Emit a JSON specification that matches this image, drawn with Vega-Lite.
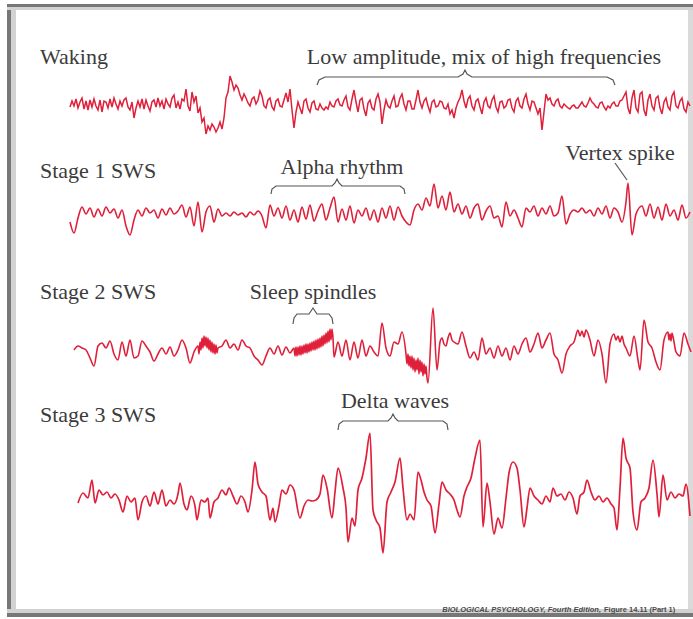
{
"$schema":"https://vega.github.io/schema/vega-lite/v6.json",
"background":"#ffffff",
"padding":{"left":7,"top":4,"right":0,"bottom":2},
"spacing":0,
"bounds":"flush",
"config":{"view":{"stroke":null},"text":{"font":"Liberation Serif","fontSize":22,"color":"#3b3b3b","baseline":"alphabetic"}},
"datasets":{
"wake":[
{"t":0,"v":-3},{"t":20,"v":3},{"t":40,"v":-2},{"t":60,"v":5},{"t":80,"v":-4},{"t":100,"v":2},{"t":120,"v":6},{"t":140,"v":-5},{"t":160,"v":3},{"t":180,"v":-6},
{"t":200,"v":4},{"t":220,"v":-3},{"t":240,"v":5},{"t":260,"v":-2},{"t":280,"v":-6},{"t":300,"v":4},{"t":320,"v":-8},{"t":340,"v":3},{"t":360,"v":2},{"t":380,"v":-4},
{"t":400,"v":5},{"t":420,"v":-3},{"t":440,"v":6},{"t":460,"v":0},{"t":480,"v":-5},{"t":500,"v":3},{"t":520,"v":-2},{"t":540,"v":4},{"t":560,"v":6},{"t":580,"v":-3},
{"t":600,"v":-6},{"t":620,"v":2},{"t":640,"v":-14},{"t":660,"v":-4},{"t":680,"v":3},{"t":700,"v":-3},{"t":720,"v":5},{"t":740,"v":-5},{"t":760,"v":4},{"t":780,"v":-2},
{"t":800,"v":-7},{"t":820,"v":2},{"t":840,"v":4},{"t":860,"v":-3},{"t":880,"v":6},{"t":900,"v":-2},{"t":920,"v":3},{"t":940,"v":-5},{"t":960,"v":5},{"t":980,"v":0},
{"t":1000,"v":-3},{"t":1020,"v":6},{"t":1040,"v":9},{"t":1060,"v":-4},{"t":1080,"v":2},{"t":1100,"v":-5},{"t":1120,"v":5},{"t":1140,"v":3},{"t":1160,"v":15},{"t":1180,"v":-2},
{"t":1200,"v":-7},{"t":1220,"v":12},{"t":1240,"v":2},{"t":1260,"v":8},{"t":1280,"v":-9},{"t":1300,"v":-4},{"t":1320,"v":-18},{"t":1340,"v":-14},{"t":1360,"v":-30},{"t":1380,"v":-22},
{"t":1400,"v":-26},{"t":1420,"v":-20},{"t":1440,"v":-23},{"t":1460,"v":-28},{"t":1480,"v":-24},{"t":1500,"v":-18},{"t":1520,"v":-25},{"t":1540,"v":-14},{"t":1560,"v":6},{"t":1580,"v":12},
{"t":1600,"v":28},{"t":1620,"v":22},{"t":1640,"v":14},{"t":1660,"v":19},{"t":1680,"v":16},{"t":1700,"v":9},{"t":1720,"v":4},{"t":1740,"v":10},{"t":1760,"v":6},{"t":1780,"v":1},
{"t":1800,"v":-2},{"t":1820,"v":5},{"t":1840,"v":7},{"t":1860,"v":0},{"t":1880,"v":4},{"t":1900,"v":13},{"t":1920,"v":8},{"t":1940,"v":-2},{"t":1960,"v":-4},{"t":1980,"v":4},
{"t":2000,"v":6},{"t":2020,"v":-3},{"t":2040,"v":-6},{"t":2060,"v":3},{"t":2080,"v":5},{"t":2100,"v":-2},{"t":2120,"v":-3},{"t":2140,"v":4},{"t":2160,"v":11},{"t":2180,"v":2},
{"t":2200,"v":15},{"t":2220,"v":-6},{"t":2240,"v":-24},{"t":2260,"v":-8},{"t":2280,"v":2},{"t":2300,"v":-4},{"t":2320,"v":-10},{"t":2340,"v":3},{"t":2360,"v":5},{"t":2380,"v":-4},
{"t":2400,"v":-8},{"t":2420,"v":1},{"t":2440,"v":3},{"t":2460,"v":-5},{"t":2480,"v":-6},{"t":2500,"v":0},{"t":2520,"v":-4},{"t":2540,"v":-6},{"t":2560,"v":-3},{"t":2580,"v":-5},
{"t":2600,"v":2},{"t":2620,"v":-2},{"t":2640,"v":-3},{"t":2660,"v":3},{"t":2680,"v":5},{"t":2700,"v":-1},{"t":2720,"v":-2},{"t":2740,"v":4},{"t":2760,"v":8},{"t":2780,"v":-3},
{"t":2800,"v":-6},{"t":2820,"v":5},{"t":2840,"v":14},{"t":2860,"v":2},{"t":2880,"v":-8},{"t":2900,"v":4},{"t":2920,"v":6},{"t":2940,"v":-5},{"t":2960,"v":-12},{"t":2980,"v":1},
{"t":3000,"v":4},{"t":3020,"v":-4},{"t":3040,"v":-6},{"t":3060,"v":5},{"t":3080,"v":10},{"t":3100,"v":2},{"t":3120,"v":-20},{"t":3140,"v":-6},{"t":3160,"v":4},{"t":3180,"v":-2},
{"t":3200,"v":-4},{"t":3220,"v":3},{"t":3240,"v":8},{"t":3260,"v":-3},{"t":3280,"v":-2},{"t":3300,"v":6},{"t":3320,"v":10},{"t":3340,"v":0},{"t":3360,"v":-6},{"t":3380,"v":3},
{"t":3400,"v":3},{"t":3420,"v":-5},{"t":3440,"v":-5},{"t":3460,"v":4},{"t":3480,"v":14},{"t":3500,"v":2},{"t":3520,"v":-4},{"t":3540,"v":3},{"t":3560,"v":6},{"t":3580,"v":-2},
{"t":3600,"v":-8},{"t":3620,"v":2},{"t":3640,"v":4},{"t":3660,"v":-3},{"t":3680,"v":-2},{"t":3700,"v":3},{"t":3720,"v":2},{"t":3740,"v":-4},{"t":3760,"v":-5},{"t":3780,"v":0},
{"t":3800,"v":-10},{"t":3820,"v":-6},{"t":3840,"v":-14},{"t":3860,"v":-4},{"t":3880,"v":2},{"t":3900,"v":6},{"t":3920,"v":14},{"t":3940,"v":3},{"t":3960,"v":-4},{"t":3980,"v":5},
{"t":4000,"v":8},{"t":4020,"v":-2},{"t":4040,"v":-6},{"t":4060,"v":3},{"t":4080,"v":5},{"t":4100,"v":-3},{"t":4120,"v":-10},{"t":4140,"v":2},{"t":4160,"v":6},{"t":4180,"v":-2},
{"t":4200,"v":-4},{"t":4220,"v":4},{"t":4240,"v":8},{"t":4260,"v":-3},{"t":4280,"v":-8},{"t":4300,"v":2},{"t":4320,"v":3},{"t":4340,"v":-4},{"t":4360,"v":-2},{"t":4380,"v":4},
{"t":4400,"v":5},{"t":4420,"v":-4},{"t":4440,"v":-8},{"t":4460,"v":3},{"t":4480,"v":6},{"t":4500,"v":-2},{"t":4520,"v":-4},{"t":4540,"v":5},{"t":4560,"v":10},{"t":4580,"v":0},
{"t":4600,"v":-6},{"t":4620,"v":3},{"t":4640,"v":2},{"t":4660,"v":-4},{"t":4680,"v":-10},{"t":4700,"v":-4},{"t":4720,"v":-26},{"t":4740,"v":-8},{"t":4760,"v":10},{"t":4780,"v":4},
{"t":4800,"v":6},{"t":4820,"v":0},{"t":4840,"v":-2},{"t":4860,"v":3},{"t":4880,"v":5},{"t":4900,"v":-2},{"t":4920,"v":-4},{"t":4940,"v":0},{"t":4960,"v":-2},{"t":4980,"v":-4},
{"t":5000,"v":-5},{"t":5020,"v":-2},{"t":5040,"v":-1},{"t":5060,"v":-4},{"t":5080,"v":-4},{"t":5100,"v":-1},{"t":5120,"v":2},{"t":5140,"v":-2},{"t":5160,"v":-3},{"t":5180,"v":1},
{"t":5200,"v":6},{"t":5220,"v":2},{"t":5240,"v":0},{"t":5260,"v":-3},{"t":5280,"v":-4},{"t":5300,"v":1},{"t":5320,"v":2},{"t":5340,"v":-3},{"t":5360,"v":-6},{"t":5380,"v":-2},
{"t":5400,"v":-4},{"t":5420,"v":0},{"t":5440,"v":2},{"t":5460,"v":-2},{"t":5480,"v":-2},{"t":5500,"v":3},{"t":5520,"v":4},{"t":5540,"v":8},{"t":5560,"v":12},{"t":5580,"v":-4},
{"t":5600,"v":-10},{"t":5620,"v":6},{"t":5640,"v":14},{"t":5660,"v":-4},{"t":5680,"v":-8},{"t":5700,"v":10},{"t":5720,"v":12},{"t":5740,"v":-6},{"t":5760,"v":-12},{"t":5780,"v":4},
{"t":5800,"v":10},{"t":5820,"v":-2},{"t":5840,"v":-6},{"t":5860,"v":6},{"t":5880,"v":8},{"t":5900,"v":-4},{"t":5920,"v":-10},{"t":5940,"v":2},{"t":5960,"v":6},{"t":5980,"v":-3},
{"t":6000,"v":-6},{"t":6020,"v":8},{"t":6040,"v":12},{"t":6060,"v":-2},{"t":6080,"v":-4},{"t":6100,"v":3},{"t":6120,"v":6},{"t":6140,"v":-5},{"t":6160,"v":-8},{"t":6180,"v":2},{"t":6200,"v":-2}],
"s1":[{"t":0,"v":-8},{"t":40,"v":-19},{"t":80,"v":-4},{"t":120,"v":7},{"t":160,"v":0},{"t":200,"v":6},{"t":240,"v":-3},{"t":280,"v":5},{"t":320,"v":-2},{"t":360,"v":7},
{"t":400,"v":1},{"t":440,"v":5},{"t":480,"v":-4},{"t":520,"v":4},{"t":560,"v":-12},{"t":600,"v":-21},{"t":640,"v":-6},{"t":680,"v":4},{"t":720,"v":-2},{"t":760,"v":6},
{"t":800,"v":1},{"t":840,"v":4},{"t":880,"v":-4},{"t":920,"v":5},{"t":960,"v":-1},{"t":1000,"v":6},{"t":1040,"v":0},{"t":1080,"v":3},{"t":1120,"v":9},{"t":1160,"v":-3},
{"t":1200,"v":7},{"t":1240,"v":-12},{"t":1280,"v":12},{"t":1320,"v":-18},{"t":1360,"v":2},{"t":1400,"v":8},{"t":1440,"v":-8},{"t":1480,"v":5},{"t":1520,"v":-2},{"t":1560,"v":1},
{"t":1600,"v":-2},{"t":1640,"v":2},{"t":1680,"v":-1},{"t":1720,"v":1},{"t":1760,"v":-3},{"t":1800,"v":2},{"t":1840,"v":-1},{"t":1880,"v":3},{"t":1920,"v":-2},{"t":1960,"v":-14},
{"t":2000,"v":9},{"t":2040,"v":-2},{"t":2080,"v":6},{"t":2120,"v":-4},{"t":2160,"v":8},{"t":2200,"v":-6},{"t":2240,"v":4},{"t":2280,"v":-8},{"t":2320,"v":7},{"t":2360,"v":-5},
{"t":2400,"v":9},{"t":2440,"v":-7},{"t":2480,"v":3},{"t":2520,"v":10},{"t":2560,"v":-6},{"t":2600,"v":6},{"t":2640,"v":17},{"t":2680,"v":-8},{"t":2720,"v":5},{"t":2760,"v":-6},
{"t":2800,"v":8},{"t":2840,"v":-9},{"t":2880,"v":4},{"t":2920,"v":-2},{"t":2960,"v":6},{"t":3000,"v":-6},{"t":3040,"v":4},{"t":3080,"v":-8},{"t":3120,"v":6},{"t":3160,"v":-4},
{"t":3200,"v":8},{"t":3240,"v":-6},{"t":3280,"v":7},{"t":3320,"v":-2},{"t":3360,"v":-8},{"t":3400,"v":-11},{"t":3440,"v":4},{"t":3480,"v":10},{"t":3520,"v":4},{"t":3560,"v":16},
{"t":3600,"v":8},{"t":3640,"v":30},{"t":3680,"v":6},{"t":3720,"v":18},{"t":3760,"v":4},{"t":3800,"v":22},{"t":3840,"v":2},{"t":3880,"v":10},{"t":3920,"v":0},{"t":3960,"v":8},
{"t":4000,"v":-4},{"t":4040,"v":6},{"t":4080,"v":10},{"t":4120,"v":-6},{"t":4160,"v":3},{"t":4200,"v":8},{"t":4240,"v":-4},{"t":4280,"v":-2},{"t":4320,"v":-13},{"t":4360,"v":12},
{"t":4400,"v":-2},{"t":4440,"v":4},{"t":4480,"v":-4},{"t":4520,"v":-13},{"t":4560,"v":6},{"t":4600,"v":2},{"t":4640,"v":8},{"t":4680,"v":-2},{"t":4720,"v":6},{"t":4760,"v":0},
{"t":4800,"v":8},{"t":4840,"v":-2},{"t":4880,"v":1},{"t":4920,"v":18},{"t":4960,"v":-10},{"t":5000,"v":0},{"t":5040,"v":4},{"t":5080,"v":2},{"t":5120,"v":6},{"t":5160,"v":1},
{"t":5200,"v":4},{"t":5240,"v":-2},{"t":5280,"v":6},{"t":5320,"v":0},{"t":5360,"v":8},{"t":5400,"v":-4},{"t":5440,"v":6},{"t":5480,"v":2},{"t":5520,"v":-8},{"t":5560,"v":12},
{"t":5580,"v":31},{"t":5620,"v":-21},{"t":5660,"v":0},{"t":5720,"v":8},{"t":5760,"v":-2},{"t":5800,"v":10},{"t":5840,"v":-4},{"t":5880,"v":7},{"t":5920,"v":-6},{"t":5960,"v":10},
{"t":6000,"v":-2},{"t":6040,"v":4},{"t":6080,"v":-6},{"t":6120,"v":9},{"t":6160,"v":-4},{"t":6200,"v":2}],
"s2":[{"t":40,"v":0},{"t":80,"v":4},{"t":120,"v":2},{"t":160,"v":0},{"t":200,"v":-8},{"t":240,"v":-16},{"t":280,"v":4},{"t":320,"v":7},{"t":360,"v":2},{"t":400,"v":9},
{"t":440,"v":-4},{"t":480,"v":-10},{"t":520,"v":8},{"t":560,"v":-6},{"t":600,"v":10},{"t":640,"v":-8},{"t":680,"v":-6},{"t":720,"v":9},{"t":760,"v":4},{"t":800,"v":-2},
{"t":840,"v":-11},{"t":880,"v":-4},{"t":920,"v":2},{"t":960,"v":-4},{"t":1000,"v":3},{"t":1040,"v":-6},{"t":1080,"v":0},{"t":1120,"v":10},{"t":1160,"v":2},{"t":1200,"v":-13},
{"t":1240,"v":-2},{"t":1280,"v":4},{"t":1290,"v":-4},{"t":1300,"v":8},{"t":1310,"v":0},{"t":1320,"v":12},{"t":1330,"v":2},{"t":1340,"v":14},{"t":1350,"v":4},{"t":1360,"v":13},
{"t":1370,"v":2},{"t":1380,"v":12},{"t":1390,"v":0},{"t":1400,"v":10},{"t":1410,"v":-2},{"t":1420,"v":8},{"t":1430,"v":-3},{"t":1440,"v":6},{"t":1450,"v":-4},{"t":1460,"v":5},
{"t":1470,"v":-3},{"t":1480,"v":2},{"t":1520,"v":4},{"t":1560,"v":10},{"t":1600,"v":2},{"t":1640,"v":6},{"t":1680,"v":0},{"t":1720,"v":10},{"t":1760,"v":4},{"t":1800,"v":2},
{"t":1840,"v":-6},{"t":1880,"v":-10},{"t":1920,"v":-15},{"t":1960,"v":-6},{"t":2000,"v":2},{"t":2040,"v":-4},{"t":2080,"v":4},{"t":2120,"v":-5},{"t":2160,"v":3},{"t":2200,"v":-3},
{"t":2240,"v":2},{"t":2250,"v":-6},{"t":2260,"v":3},{"t":2270,"v":-6},{"t":2280,"v":3},{"t":2290,"v":-5},{"t":2300,"v":4},{"t":2310,"v":-5},{"t":2320,"v":4},{"t":2330,"v":-4},
{"t":2340,"v":5},{"t":2350,"v":-3},{"t":2360,"v":6},{"t":2370,"v":-3},{"t":2380,"v":6},{"t":2390,"v":-2},{"t":2400,"v":7},{"t":2410,"v":-1},{"t":2420,"v":8},{"t":2430,"v":0},
{"t":2440,"v":9},{"t":2450,"v":0},{"t":2460,"v":10},{"t":2470,"v":1},{"t":2480,"v":11},{"t":2490,"v":2},{"t":2500,"v":12},{"t":2510,"v":3},{"t":2520,"v":14},{"t":2530,"v":4},
{"t":2540,"v":15},{"t":2550,"v":6},{"t":2560,"v":17},{"t":2570,"v":7},{"t":2580,"v":19},{"t":2590,"v":8},{"t":2600,"v":21},{"t":2610,"v":10},{"t":2620,"v":21},{"t":2630,"v":12},
{"t":2640,"v":-7},{"t":2680,"v":8},{"t":2720,"v":-6},{"t":2760,"v":10},{"t":2800,"v":-10},{"t":2840,"v":8},{"t":2880,"v":-8},{"t":2920,"v":10},{"t":2960,"v":-6},{"t":3000,"v":4},
{"t":3040,"v":-2},{"t":3080,"v":-6},{"t":3120,"v":27},{"t":3160,"v":2},{"t":3200,"v":-6},{"t":3240,"v":8},{"t":3280,"v":6},{"t":3320,"v":18},{"t":3360,"v":-4},{"t":3370,"v":-14},
{"t":3380,"v":-4},{"t":3390,"v":-16},{"t":3400,"v":-6},{"t":3410,"v":-18},{"t":3420,"v":-6},{"t":3430,"v":-20},{"t":3440,"v":-8},{"t":3450,"v":-22},{"t":3460,"v":-10},{"t":3470,"v":-20},
{"t":3480,"v":-8},{"t":3490,"v":-24},{"t":3500,"v":-10},{"t":3510,"v":-22},{"t":3520,"v":-12},{"t":3530,"v":-26},{"t":3540,"v":-14},{"t":3550,"v":-24},{"t":3560,"v":-16},{"t":3570,"v":-28},
{"t":3580,"v":-33},{"t":3630,"v":42},{"t":3670,"v":-20},{"t":3700,"v":8},{"t":3720,"v":12},{"t":3740,"v":6},{"t":3760,"v":4},{"t":3780,"v":12},{"t":3800,"v":17},{"t":3820,"v":10},
{"t":3840,"v":8},{"t":3880,"v":6},{"t":3920,"v":18},{"t":3960,"v":4},{"t":4000,"v":-8},{"t":4040,"v":-2},{"t":4080,"v":-10},{"t":4120,"v":12},{"t":4160,"v":-4},{"t":4200,"v":2},
{"t":4240,"v":-8},{"t":4280,"v":4},{"t":4320,"v":-6},{"t":4360,"v":2},{"t":4400,"v":-10},{"t":4440,"v":4},{"t":4480,"v":-4},{"t":4520,"v":6},{"t":4560,"v":12},{"t":4600,"v":-2},
{"t":4640,"v":6},{"t":4680,"v":17},{"t":4720,"v":2},{"t":4760,"v":10},{"t":4800,"v":17},{"t":4840,"v":-4},{"t":4880,"v":-10},{"t":4920,"v":-23},{"t":4960,"v":-4},{"t":5000,"v":4},
{"t":5040,"v":8},{"t":5080,"v":20},{"t":5100,"v":14},{"t":5120,"v":19},{"t":5140,"v":13},{"t":5160,"v":20},{"t":5200,"v":10},{"t":5240,"v":-6},{"t":5280,"v":10},{"t":5320,"v":-4},
{"t":5360,"v":-33},{"t":5400,"v":6},{"t":5440,"v":16},{"t":5460,"v":10},{"t":5480,"v":14},{"t":5500,"v":8},{"t":5520,"v":14},{"t":5540,"v":6},{"t":5560,"v":2},{"t":5600,"v":-6},
{"t":5640,"v":14},{"t":5680,"v":-10},{"t":5700,"v":-20},{"t":5740,"v":30},{"t":5780,"v":8},{"t":5820,"v":2},{"t":5860,"v":-12},{"t":5900,"v":-20},{"t":5940,"v":10},{"t":5980,"v":18},
{"t":5990,"v":10},{"t":6000,"v":16},{"t":6010,"v":9},{"t":6020,"v":17},{"t":6040,"v":8},{"t":6060,"v":-2},{"t":6100,"v":-6},{"t":6140,"v":17},{"t":6180,"v":6},{"t":6210,"v":-2}],
"s3":[{"t":80,"v":-5},{"t":130,"v":5},{"t":180,"v":0},{"t":220,"v":18},{"t":250,"v":-5},{"t":290,"v":8},{"t":330,"v":3},{"t":370,"v":6},{"t":410,"v":0},{"t":450,"v":4},
{"t":490,"v":-2},{"t":530,"v":-14},{"t":570,"v":2},{"t":610,"v":-4},{"t":650,"v":0},{"t":680,"v":-22},{"t":720,"v":-4},{"t":760,"v":2},{"t":800,"v":-8},{"t":840,"v":6},
{"t":880,"v":-6},{"t":920,"v":8},{"t":960,"v":-8},{"t":1000,"v":-2},{"t":1040,"v":-6},{"t":1080,"v":4},{"t":1100,"v":15},{"t":1140,"v":-6},{"t":1170,"v":-12},{"t":1210,"v":2},
{"t":1250,"v":-8},{"t":1270,"v":-22},{"t":1310,"v":-2},{"t":1350,"v":-4},{"t":1380,"v":0},{"t":1400,"v":-20},{"t":1440,"v":-4},{"t":1480,"v":0},{"t":1520,"v":8},{"t":1560,"v":3},
{"t":1590,"v":10},{"t":1630,"v":2},{"t":1670,"v":-6},{"t":1710,"v":2},{"t":1750,"v":-4},{"t":1780,"v":-14},{"t":1820,"v":8},{"t":1850,"v":36},{"t":1880,"v":14},{"t":1920,"v":6},
{"t":1960,"v":2},{"t":2000,"v":-22},{"t":2030,"v":-10},{"t":2050,"v":-24},{"t":2090,"v":-8},{"t":2120,"v":8},{"t":2160,"v":4},{"t":2200,"v":13},{"t":2240,"v":8},{"t":2300,"v":-20},
{"t":2340,"v":-8},{"t":2380,"v":-2},{"t":2420,"v":-3},{"t":2460,"v":-2},{"t":2500,"v":4},{"t":2530,"v":23},{"t":2570,"v":10},{"t":2620,"v":-20},{"t":2650,"v":6},{"t":2680,"v":30},
{"t":2730,"v":10},{"t":2760,"v":-10},{"t":2780,"v":-44},{"t":2820,"v":-20},{"t":2850,"v":-28},{"t":2880,"v":8},{"t":2920,"v":20},{"t":2960,"v":40},{"t":3000,"v":65},{"t":3030,"v":-12},
{"t":3060,"v":-22},{"t":3100,"v":-30},{"t":3130,"v":-55},{"t":3170,"v":-4},{"t":3210,"v":6},{"t":3250,"v":16},{"t":3300,"v":40},{"t":3330,"v":10},{"t":3370,"v":-22},{"t":3400,"v":-16},
{"t":3440,"v":-22},{"t":3480,"v":26},{"t":3510,"v":18},{"t":3540,"v":6},{"t":3570,"v":-2},{"t":3610,"v":-8},{"t":3650,"v":-35},{"t":3690,"v":-6},{"t":3720,"v":16},{"t":3760,"v":8},
{"t":3800,"v":4},{"t":3840,"v":-2},{"t":3870,"v":-12},{"t":3900,"v":-19},{"t":3940,"v":2},{"t":3970,"v":11},{"t":4010,"v":20},{"t":4050,"v":40},{"t":4100,"v":58},{"t":4130,"v":-29},
{"t":4170,"v":15},{"t":4200,"v":-4},{"t":4240,"v":-36},{"t":4280,"v":-20},{"t":4320,"v":-30},{"t":4360,"v":0},{"t":4390,"v":25},{"t":4430,"v":36},{"t":4470,"v":30},{"t":4500,"v":8},
{"t":4540,"v":-29},{"t":4570,"v":-10},{"t":4600,"v":10},{"t":4640,"v":2},{"t":4680,"v":-2},{"t":4720,"v":-6},{"t":4760,"v":2},{"t":4800,"v":-4},{"t":4830,"v":10},{"t":4870,"v":2},
{"t":4910,"v":4},{"t":4950,"v":-2},{"t":4990,"v":6},{"t":5030,"v":0},{"t":5070,"v":-16},{"t":5100,"v":2},{"t":5140,"v":6},{"t":5170,"v":18},{"t":5210,"v":6},{"t":5250,"v":-2},
{"t":5290,"v":2},{"t":5330,"v":-4},{"t":5370,"v":0},{"t":5410,"v":-6},{"t":5440,"v":-10},{"t":5470,"v":-32},{"t":5500,"v":10},{"t":5530,"v":60},{"t":5560,"v":40},{"t":5600,"v":30},
{"t":5630,"v":-14},{"t":5670,"v":-32},{"t":5710,"v":-4},{"t":5750,"v":0},{"t":5790,"v":10},{"t":5830,"v":38},{"t":5870,"v":4},{"t":5890,"v":-19},{"t":5930,"v":23},{"t":5970,"v":-2},
{"t":6010,"v":6},{"t":6050,"v":0},{"t":6090,"v":4},{"t":6130,"v":2},{"t":6160,"v":14},{"t":6200,"v":-18}],
"brW":[{"t":2470,"v":19},{"t":2490,"v":24},{"t":2550,"v":27},{"t":3880,"v":27},{"t":3930,"v":30},{"t":3950,"v":34},{"t":3970,"v":30},{"t":4020,"v":27},{"t":5370,"v":27},{"t":5430,"v":24},{"t":5450,"v":19}],
"brA":[{"t":2010,"v":20},{"t":2020,"v":25},{"t":2060,"v":28},{"t":2620,"v":28},{"t":2650,"v":31},{"t":2670,"v":35},{"t":2690,"v":31},{"t":2720,"v":28},{"t":3300,"v":28},{"t":3340,"v":25},{"t":3350,"v":20}],
"vtx":[{"t":5450,"v":51},{"t":5570,"v":34}],
"brS":[{"t":2230,"v":26},{"t":2240,"v":32},{"t":2270,"v":36},{"t":2390,"v":36},{"t":2410,"v":39},{"t":2430,"v":42},{"t":2450,"v":39},{"t":2470,"v":36},{"t":2590,"v":36},{"t":2620,"v":32},{"t":2630,"v":26}],
"brD":[{"t":2680,"v":68},{"t":2690,"v":74},{"t":2730,"v":77},{"t":3180,"v":77},{"t":3210,"v":80},{"t":3230,"v":84},{"t":3250,"v":80},{"t":3280,"v":77},{"t":3730,"v":77},{"t":3770,"v":74},{"t":3780,"v":68}]
},
"vconcat":[
{"width":686,"height":136,
"layer":[
{"data":{"values":[{}]},"mark":{"type":"rule","clip":true,"color":"#d2d2d2","strokeWidth":18},"encoding":{"x":{"datum":-630,"type":"quantitative","scale":{"domain":[-630,6230],"nice":false,"zero":false},"axis":null}}},
{"data":{"values":[{}]},"mark":{"type":"rule","clip":true,"color":"#777777","strokeWidth":8},"encoding":{"x":{"datum":-630,"type":"quantitative","scale":{"domain":[-630,6230],"nice":false,"zero":false},"axis":null}}},
{"data":{"values":[{}]},"mark":{"type":"rule","clip":true,"color":"#dadada","strokeWidth":10},"encoding":{"x":{"datum":6230,"type":"quantitative","scale":{"domain":[-630,6230],"nice":false,"zero":false},"axis":null}}},
{"data":{"values":[{}]},"mark":{"type":"rule","clip":true,"color":"#d2d2d2","strokeWidth":12},"encoding":{"y":{"datum":100,"type":"quantitative","scale":{"domain":[-36,100],"nice":false,"zero":false},"axis":null}}},
{"data":{"values":[{}]},"mark":{"type":"rule","clip":true,"color":"#777777","strokeWidth":6},"encoding":{"y":{"datum":100,"type":"quantitative","scale":{"domain":[-36,100],"nice":false,"zero":false},"axis":null}}},
{"data":{"name":"wake"},"mark":{"type":"line","color":"#e0203a","strokeWidth":1.5},"encoding":{"x":{"field":"t","type":"quantitative","scale":{"domain":[-630,6230],"nice":false,"zero":false},"axis":null},"y":{"field":"v","type":"quantitative","scale":{"domain":[-36,100],"nice":false,"zero":false},"axis":null}}},
{"data":{"name":"brW"},"mark":{"type":"line","color":"#555555","strokeWidth":1.2},"encoding":{"x":{"field":"t","type":"quantitative","scale":{"domain":[-630,6230],"nice":false,"zero":false},"axis":null},"y":{"field":"v","type":"quantitative","scale":{"domain":[-36,100],"nice":false,"zero":false},"axis":null}}},
{"data":{"values":[{"t":-300,"v":40,"label":"Waking"}]},"mark":{"type":"text","align":"left"},"encoding":{"x":{"field":"t","type":"quantitative","scale":{"domain":[-630,6230],"nice":false,"zero":false},"axis":null},"y":{"field":"v","type":"quantitative","scale":{"domain":[-36,100],"nice":false,"zero":false},"axis":null},"text":{"field":"label"}}},
{"data":{"values":[{"t":4140,"v":40,"label":"Low amplitude, mix of high frequencies"}]},"mark":{"type":"text","align":"center"},"encoding":{"x":{"field":"t","type":"quantitative","scale":{"domain":[-630,6230],"nice":false,"zero":false},"axis":null},"y":{"field":"v","type":"quantitative","scale":{"domain":[-36,100],"nice":false,"zero":false},"axis":null},"text":{"field":"label"}}}
]},
{"width":686,"height":122,
"layer":[
{"data":{"values":[{}]},"mark":{"type":"rule","clip":true,"color":"#d2d2d2","strokeWidth":18},"encoding":{"x":{"datum":-630,"type":"quantitative","scale":{"domain":[-630,6230],"nice":false,"zero":false},"axis":null}}},
{"data":{"values":[{}]},"mark":{"type":"rule","clip":true,"color":"#777777","strokeWidth":8},"encoding":{"x":{"datum":-630,"type":"quantitative","scale":{"domain":[-630,6230],"nice":false,"zero":false},"axis":null}}},
{"data":{"values":[{}]},"mark":{"type":"rule","clip":true,"color":"#dadada","strokeWidth":10},"encoding":{"x":{"datum":6230,"type":"quantitative","scale":{"domain":[-630,6230],"nice":false,"zero":false},"axis":null}}},
{"data":{"name":"s1"},"mark":{"type":"line","color":"#e0203a","strokeWidth":1.6,"interpolate":"monotone"},"encoding":{"x":{"field":"t","type":"quantitative","scale":{"domain":[-630,6230],"nice":false,"zero":false},"axis":null},"y":{"field":"v","type":"quantitative","scale":{"domain":[-48,74],"nice":false,"zero":false},"axis":null}}},
{"data":{"name":"brA"},"mark":{"type":"line","color":"#555555","strokeWidth":1.2},"encoding":{"x":{"field":"t","type":"quantitative","scale":{"domain":[-630,6230],"nice":false,"zero":false},"axis":null},"y":{"field":"v","type":"quantitative","scale":{"domain":[-48,74],"nice":false,"zero":false},"axis":null}}},
{"data":{"name":"vtx"},"mark":{"type":"line","color":"#555555","strokeWidth":1.2},"encoding":{"x":{"field":"t","type":"quantitative","scale":{"domain":[-630,6230],"nice":false,"zero":false},"axis":null},"y":{"field":"v","type":"quantitative","scale":{"domain":[-48,74],"nice":false,"zero":false},"axis":null}}},
{"data":{"values":[{"t":-300,"v":36,"label":"Stage 1 SWS"}]},"mark":{"type":"text","align":"left"},"encoding":{"x":{"field":"t","type":"quantitative","scale":{"domain":[-630,6230],"nice":false,"zero":false},"axis":null},"y":{"field":"v","type":"quantitative","scale":{"domain":[-48,74],"nice":false,"zero":false},"axis":null},"text":{"field":"label"}}},
{"data":{"values":[{"t":2720,"v":40,"label":"Alpha rhythm"},{"t":5500,"v":54,"label":"Vertex spike"}]},"mark":{"type":"text","align":"center"},"encoding":{"x":{"field":"t","type":"quantitative","scale":{"domain":[-630,6230],"nice":false,"zero":false},"axis":null},"y":{"field":"v","type":"quantitative","scale":{"domain":[-48,74],"nice":false,"zero":false},"axis":null},"text":{"field":"label"}}}
]},
{"width":686,"height":123,
"layer":[
{"data":{"values":[{}]},"mark":{"type":"rule","clip":true,"color":"#d2d2d2","strokeWidth":18},"encoding":{"x":{"datum":-630,"type":"quantitative","scale":{"domain":[-630,6230],"nice":false,"zero":false},"axis":null}}},
{"data":{"values":[{}]},"mark":{"type":"rule","clip":true,"color":"#777777","strokeWidth":8},"encoding":{"x":{"datum":-630,"type":"quantitative","scale":{"domain":[-630,6230],"nice":false,"zero":false},"axis":null}}},
{"data":{"values":[{}]},"mark":{"type":"rule","clip":true,"color":"#dadada","strokeWidth":10},"encoding":{"x":{"datum":6230,"type":"quantitative","scale":{"domain":[-630,6230],"nice":false,"zero":false},"axis":null}}},
{"data":{"name":"s2"},"mark":{"type":"line","color":"#e0203a","strokeWidth":1.6,"interpolate":"monotone"},"encoding":{"x":{"field":"t","type":"quantitative","scale":{"domain":[-630,6230],"nice":false,"zero":false},"axis":null},"y":{"field":"v","type":"quantitative","scale":{"domain":[-35,88],"nice":false,"zero":false},"axis":null}}},
{"data":{"name":"brS"},"mark":{"type":"line","color":"#555555","strokeWidth":1.2},"encoding":{"x":{"field":"t","type":"quantitative","scale":{"domain":[-630,6230],"nice":false,"zero":false},"axis":null},"y":{"field":"v","type":"quantitative","scale":{"domain":[-35,88],"nice":false,"zero":false},"axis":null}}},
{"data":{"values":[{"t":-300,"v":51,"label":"Stage 2 SWS"}]},"mark":{"type":"text","align":"left"},"encoding":{"x":{"field":"t","type":"quantitative","scale":{"domain":[-630,6230],"nice":false,"zero":false},"axis":null},"y":{"field":"v","type":"quantitative","scale":{"domain":[-35,88],"nice":false,"zero":false},"axis":null},"text":{"field":"label"}}},
{"data":{"values":[{"t":2430,"v":51,"label":"Sleep spindles"}]},"mark":{"type":"text","align":"center"},"encoding":{"x":{"field":"t","type":"quantitative","scale":{"domain":[-630,6230],"nice":false,"zero":false},"axis":null},"y":{"field":"v","type":"quantitative","scale":{"domain":[-35,88],"nice":false,"zero":false},"axis":null},"text":{"field":"label"}}}
]},
{"width":686,"height":232,
"layer":[
{"data":{"values":[{}]},"mark":{"type":"rule","clip":true,"color":"#d2d2d2","strokeWidth":18},"encoding":{"x":{"datum":-630,"type":"quantitative","scale":{"domain":[-630,6230],"nice":false,"zero":false},"axis":null}}},
{"data":{"values":[{}]},"mark":{"type":"rule","clip":true,"color":"#777777","strokeWidth":8},"encoding":{"x":{"datum":-630,"type":"quantitative","scale":{"domain":[-630,6230],"nice":false,"zero":false},"axis":null}}},
{"data":{"values":[{}]},"mark":{"type":"rule","clip":true,"color":"#dadada","strokeWidth":10},"encoding":{"x":{"datum":6230,"type":"quantitative","scale":{"domain":[-630,6230],"nice":false,"zero":false},"axis":null}}},
{"data":{"values":[{}]},"mark":{"type":"rule","clip":true,"color":"#d2d2d2","strokeWidth":16},"encoding":{"y":{"datum":-119,"type":"quantitative","scale":{"domain":[-119,113],"nice":false,"zero":false},"axis":null}}},
{"data":{"values":[{}]},"mark":{"type":"rule","clip":true,"color":"#777777","strokeWidth":8},"encoding":{"y":{"datum":-119,"type":"quantitative","scale":{"domain":[-119,113],"nice":false,"zero":false},"axis":null}}},
{"data":{"name":"s3"},"mark":{"type":"line","color":"#e0203a","strokeWidth":1.7,"interpolate":"monotone"},"encoding":{"x":{"field":"t","type":"quantitative","scale":{"domain":[-630,6230],"nice":false,"zero":false},"axis":null},"y":{"field":"v","type":"quantitative","scale":{"domain":[-119,113],"nice":false,"zero":false},"axis":null}}},
{"data":{"name":"brD"},"mark":{"type":"line","color":"#555555","strokeWidth":1.2},"encoding":{"x":{"field":"t","type":"quantitative","scale":{"domain":[-630,6230],"nice":false,"zero":false},"axis":null},"y":{"field":"v","type":"quantitative","scale":{"domain":[-119,113],"nice":false,"zero":false},"axis":null}}},
{"data":{"values":[{"t":-300,"v":76,"label":"Stage 3 SWS"}]},"mark":{"type":"text","align":"left"},"encoding":{"x":{"field":"t","type":"quantitative","scale":{"domain":[-630,6230],"nice":false,"zero":false},"axis":null},"y":{"field":"v","type":"quantitative","scale":{"domain":[-119,113],"nice":false,"zero":false},"axis":null},"text":{"field":"label"}}},
{"data":{"values":[{"t":3250,"v":90,"label":"Delta waves"}]},"mark":{"type":"text","align":"center"},"encoding":{"x":{"field":"t","type":"quantitative","scale":{"domain":[-630,6230],"nice":false,"zero":false},"axis":null},"y":{"field":"v","type":"quantitative","scale":{"domain":[-119,113],"nice":false,"zero":false},"axis":null},"text":{"field":"label"}}},
{"data":{"values":[{"t":5310,"v":-114,"label":"BIOLOGICAL PSYCHOLOGY, Fourth Edition,"}]},"mark":{"type":"text","align":"right","font":"Liberation Sans","fontSize":7.5,"fontWeight":"bold","fontStyle":"italic","color":"#4a4a4a"},"encoding":{"x":{"field":"t","type":"quantitative","scale":{"domain":[-630,6230],"nice":false,"zero":false},"axis":null},"y":{"field":"v","type":"quantitative","scale":{"domain":[-119,113],"nice":false,"zero":false},"axis":null},"text":{"field":"label"}}},
{"data":{"values":[{"t":5340,"v":-114,"label":"Figure 14.11 (Part 1)"}]},"mark":{"type":"text","align":"left","font":"Liberation Sans","fontSize":7.5,"fontWeight":"bold","color":"#4a4a4a"},"encoding":{"x":{"field":"t","type":"quantitative","scale":{"domain":[-630,6230],"nice":false,"zero":false},"axis":null},"y":{"field":"v","type":"quantitative","scale":{"domain":[-119,113],"nice":false,"zero":false},"axis":null},"text":{"field":"label"}}}
]}
]
}
